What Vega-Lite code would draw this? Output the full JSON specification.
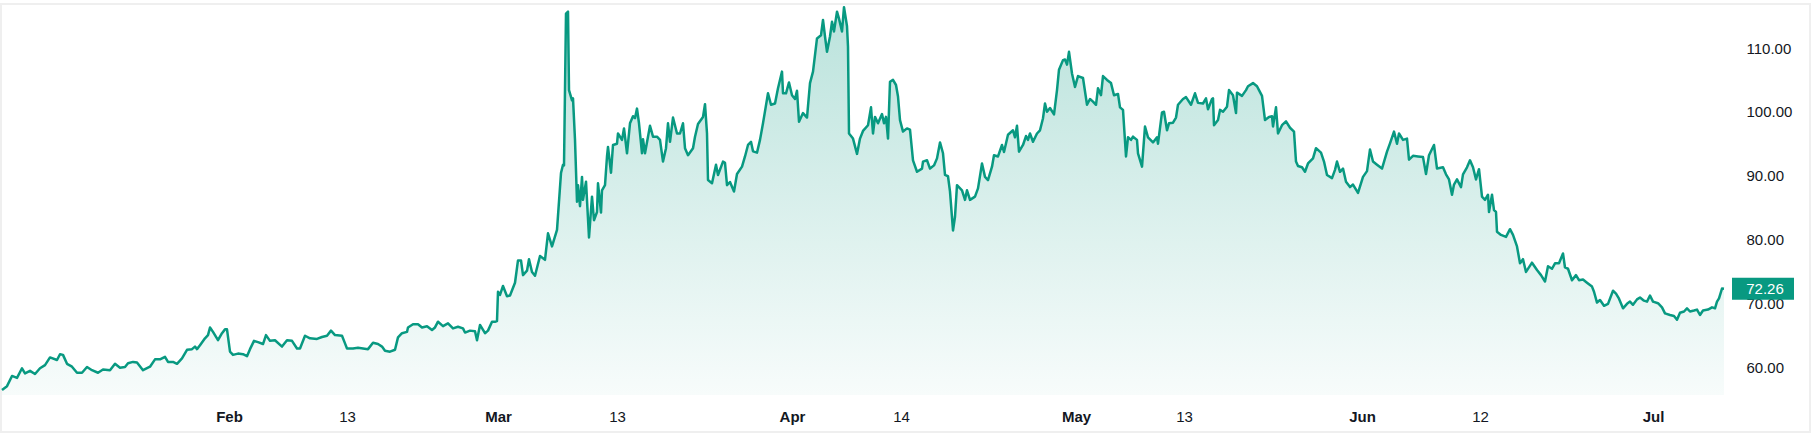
{
  "$schema": "https://vega.github.io/schema/vega-lite/v6.json",
  "width": 1809,
  "height": 428,
  "autosize": {"type": "none"},
  "padding": {"left": 1, "top": 4, "right": 5, "bottom": 10},
  "background": "#ffffff",
  "config": {"view": {"stroke": "#efefef", "strokeWidth": 2}},
  "data": {"values": [
    {"bar":0,"price":56.4},{"bar":5,"price":57.0},{"bar":10,"price":58.6},{"bar":15,"price":58.3},{"bar":20,"price":59.8},{"bar":23,"price":59.0},{"bar":28,"price":59.4},{"bar":33,"price":58.9},{"bar":38,"price":59.8},{"bar":43,"price":60.3},{"bar":48,"price":61.5},{"bar":55,"price":61.1},{"bar":58,"price":62.0},{"bar":61,"price":61.9},{"bar":65,"price":60.5},{"bar":70,"price":60.05},{"bar":75,"price":59.1},{"bar":80,"price":59.1},{"bar":85,"price":60.0},{"bar":90,"price":59.5},{"bar":96,"price":59.1},{"bar":101,"price":59.6},{"bar":108,"price":59.5},{"bar":113,"price":60.5},{"bar":118,"price":59.9},{"bar":123,"price":60.0},{"bar":126,"price":60.6},{"bar":131,"price":60.8},{"bar":135,"price":60.7},{"bar":141,"price":59.5},{"bar":148,"price":60.05},{"bar":153,"price":61.2},{"bar":158,"price":61.2},{"bar":163,"price":61.6},{"bar":166,"price":60.8},{"bar":171,"price":60.8},{"bar":175,"price":60.5},{"bar":180,"price":61.35},{"bar":185,"price":62.7},{"bar":190,"price":62.8},{"bar":193,"price":63.2},{"bar":195,"price":62.8},{"bar":198,"price":63.4},{"bar":203,"price":64.5},{"bar":206,"price":65.0},{"bar":208,"price":66.2},{"bar":211,"price":65.5},{"bar":216,"price":64.2},{"bar":220,"price":65.3},{"bar":223,"price":65.9},{"bar":225,"price":65.9},{"bar":228,"price":62.4},{"bar":231,"price":61.9},{"bar":236,"price":62.1},{"bar":241,"price":62.0},{"bar":245,"price":61.7},{"bar":248,"price":62.8},{"bar":252,"price":64.1},{"bar":256,"price":63.9},{"bar":261,"price":63.6},{"bar":264,"price":65.0},{"bar":268,"price":64.1},{"bar":273,"price":64.2},{"bar":280,"price":63.2},{"bar":285,"price":64.2},{"bar":290,"price":64.1},{"bar":295,"price":62.9},{"bar":298,"price":62.9},{"bar":303,"price":64.9},{"bar":308,"price":64.5},{"bar":315,"price":64.4},{"bar":320,"price":64.7},{"bar":325,"price":64.9},{"bar":329,"price":65.7},{"bar":333,"price":65.0},{"bar":340,"price":64.9},{"bar":343,"price":63.7},{"bar":345,"price":62.9},{"bar":351,"price":62.9},{"bar":356,"price":63.0},{"bar":361,"price":62.9},{"bar":366,"price":62.8},{"bar":371,"price":63.8},{"bar":376,"price":63.6},{"bar":380,"price":63.2},{"bar":383,"price":62.55},{"bar":388,"price":62.4},{"bar":393,"price":62.7},{"bar":396,"price":64.65},{"bar":400,"price":65.3},{"bar":405,"price":65.5},{"bar":406,"price":66.2},{"bar":411,"price":66.7},{"bar":416,"price":66.7},{"bar":420,"price":66.2},{"bar":425,"price":66.4},{"bar":430,"price":65.8},{"bar":433,"price":66.2},{"bar":436,"price":67.1},
    {"bar":441,"price":66.4},{"bar":446,"price":66.85},{"bar":451,"price":66.05},{"bar":456,"price":66.3},{"bar":461,"price":66.05},{"bar":463,"price":65.4},{"bar":468,"price":65.7},{"bar":473,"price":65.6},{"bar":475,"price":64.2},{"bar":478,"price":66.6},{"bar":483,"price":65.3},{"bar":486,"price":65.7},{"bar":490,"price":67.1},{"bar":493,"price":67.1},{"bar":495,"price":67.2},{"bar":496,"price":71.8},{"bar":498,"price":71.3},{"bar":501,"price":72.7},{"bar":505,"price":71.1},{"bar":508,"price":71.2},{"bar":513,"price":73.2},{"bar":516,"price":76.7},{"bar":519,"price":76.7},{"bar":521,"price":74.4},{"bar":525,"price":75.1},{"bar":527,"price":76.9},{"bar":530,"price":74.9},{"bar":533,"price":74.3},{"bar":538,"price":77.4},{"bar":543,"price":76.8},{"bar":546,"price":80.95},{"bar":550,"price":78.9},{"bar":555,"price":81.5},{"bar":559,"price":90.4},{"bar":561,"price":91.7},{"bar":562,"price":91.6},{"bar":564,"price":115.4},{"bar":566,"price":115.7},{"bar":567,"price":103.4},{"bar":570,"price":101.8},{"bar":571,"price":102.1},{"bar":573,"price":95.6},{"bar":575,"price":85.9},{"bar":576,"price":88.5},{"bar":578,"price":85.2},{"bar":580,"price":89.8},{"bar":581,"price":86.2},{"bar":584,"price":89.05},{"bar":587,"price":80.3},{"bar":590,"price":86.7},{"bar":592,"price":83.0},{"bar":595,"price":84.3},{"bar":596,"price":88.8},{"bar":599,"price":84.2},{"bar":600,"price":87.7},{"bar":603,"price":88.5},{"bar":605,"price":93.0},{"bar":606,"price":94.5},{"bar":609,"price":90.45},{"bar":611,"price":94.8},{"bar":615,"price":95.0},{"bar":616,"price":96.6},{"bar":620,"price":95.6},{"bar":622,"price":97.4},{"bar":625,"price":93.5},{"bar":628,"price":98.2},{"bar":631,"price":99.3},{"bar":633,"price":99.0},{"bar":635,"price":100.5},{"bar":637,"price":98.2},{"bar":640,"price":93.5},{"bar":641,"price":95.7},{"bar":643,"price":93.5},{"bar":648,"price":97.8},{"bar":651,"price":96.1},{"bar":655,"price":96.1},{"bar":658,"price":95.6},{"bar":661,"price":92.2},{"bar":664,"price":94.3},{"bar":666,"price":98.2},{"bar":668,"price":95.3},{"bar":671,"price":99.1},{"bar":675,"price":96.6},{"bar":678,"price":96.6},{"bar":681,"price":98.2},{"bar":683,"price":94.3},{"bar":686,"price":93.2},{"bar":691,"price":94.3},{"bar":693,"price":96.1},{"bar":696,"price":98.1},{"bar":701,"price":99.2},{"bar":703,"price":101.2},{"bar":705,"price":96.6},{"bar":706,"price":89.3},{"bar":710,"price":88.8},{"bar":714,"price":91.7},{"bar":716,"price":90.1},{"bar":721,"price":92.2},{"bar":723,"price":92.0},{"bar":725,"price":88.5},{"bar":728,"price":89.0},{"bar":732,"price":87.5},{"bar":735,"price":90.25},{"bar":740,"price":91.4},{"bar":743,"price":93.0},{"bar":746,"price":94.8},{"bar":749,"price":95.3},{"bar":751,"price":93.8},{"bar":755,"price":93.6},{"bar":758,"price":95.6},{"bar":761,"price":98.2},{"bar":766,"price":102.9},{"bar":769,"price":101.1},{"bar":773,"price":101.3},{"bar":776,"price":103.7},{"bar":780,"price":106.3},{"bar":781,"price":102.9},{"bar":784,"price":102.9},{"bar":787,"price":104.6},{"bar":790,"price":102.6},{"bar":793,"price":102.0},{"bar":795,"price":103.3},{"bar":797,"price":98.45},{"bar":801,"price":99.8},{"bar":805,"price":99.1},{"bar":808,"price":104.5},{"bar":811,"price":106.3},{"bar":815,"price":111.5},{"bar":819,"price":112.0},{"bar":821,"price":114.4},{"bar":823,"price":111.8},{"bar":825,"price":109.4},{"bar":828,"price":111.8},{"bar":830,"price":114.1},{"bar":832,"price":112.6},{"bar":835,"price":115.7},{"bar":837,"price":114.6},{"bar":840,"price":112.6},{"bar":842,"price":116.4},{"bar":845,"price":113.4},{"bar":846,"price":110.2},{"bar":847,"price":96.6},{"bar":851,"price":95.8},{"bar":855,"price":93.4},{"bar":858,"price":95.8},{"bar":861,"price":97.0},
    {"bar":866,"price":97.9},{"bar":869,"price":100.7},{"bar":871,"price":96.6},{"bar":873,"price":99.2},{"bar":876,"price":98.2},{"bar":880,"price":99.65},{"bar":882,"price":98.2},{"bar":884,"price":99.2},{"bar":886,"price":95.8},{"bar":888,"price":104.7},{"bar":891,"price":105.0},{"bar":894,"price":104.2},{"bar":896,"price":102.4},{"bar":898,"price":98.7},{"bar":901,"price":96.9},{"bar":905,"price":97.4},{"bar":908,"price":97.2},{"bar":911,"price":92.4},{"bar":915,"price":90.6},{"bar":920,"price":91.1},{"bar":921,"price":92.2},{"bar":925,"price":92.4},{"bar":928,"price":91.1},{"bar":932,"price":91.6},{"bar":935,"price":92.7},{"bar":938,"price":95.2},{"bar":941,"price":93.5},{"bar":943,"price":90.1},{"bar":946,"price":89.9},{"bar":948,"price":87.5},{"bar":951,"price":81.4},{"bar":953,"price":83.55},{"bar":955,"price":88.5},{"bar":960,"price":87.7},{"bar":963,"price":86.2},{"bar":965,"price":87.7},{"bar":968,"price":86.2},{"bar":973,"price":86.7},{"bar":976,"price":88.0},{"bar":980,"price":91.9},{"bar":983,"price":89.8},{"bar":986,"price":89.3},{"bar":990,"price":91.4},{"bar":992,"price":93.2},{"bar":996,"price":93.0},{"bar":1000,"price":94.8},{"bar":1002,"price":93.7},{"bar":1006,"price":96.4},{"bar":1011,"price":97.1},{"bar":1013,"price":96.0},{"bar":1015,"price":97.8},{"bar":1017,"price":93.75},{"bar":1021,"price":94.8},{"bar":1024,"price":96.2},{"bar":1026,"price":95.6},{"bar":1028,"price":96.6},{"bar":1031,"price":95.3},{"bar":1035,"price":96.6},{"bar":1038,"price":97.1},{"bar":1041,"price":99.0},{"bar":1043,"price":101.3},{"bar":1045,"price":100.0},{"bar":1048,"price":100.6},{"bar":1052,"price":99.6},{"bar":1055,"price":103.4},{"bar":1057,"price":106.6},{"bar":1061,"price":108.1},{"bar":1063,"price":108.2},{"bar":1065,"price":107.4},{"bar":1067,"price":109.4},{"bar":1070,"price":106.0},{"bar":1073,"price":103.9},{"bar":1076,"price":105.6},{"bar":1081,"price":105.3},{"bar":1085,"price":101.1},{"bar":1088,"price":102.0},{"bar":1091,"price":101.6},{"bar":1094,"price":101.1},{"bar":1096,"price":103.7},{"bar":1099,"price":102.6},{"bar":1101,"price":105.6},{"bar":1105,"price":105.0},{"bar":1109,"price":104.5},{"bar":1112,"price":102.6},{"bar":1116,"price":102.8},{"bar":1118,"price":100.7},{"bar":1121,"price":100.3},{"bar":1124,"price":93.0},{"bar":1126,"price":96.0},{"bar":1129,"price":95.6},{"bar":1131,"price":96.1},{"bar":1135,"price":95.6},{"bar":1136,"price":93.5},{"bar":1140,"price":91.4},{"bar":1143,"price":97.7},{"bar":1146,"price":96.0},{"bar":1151,"price":95.2},{"bar":1155,"price":96.0},{"bar":1156,"price":95.0},{"bar":1160,"price":99.9},{"bar":1162,"price":100.0},{"bar":1165,"price":97.1},{"bar":1167,"price":98.2},{"bar":1171,"price":98.3},{"bar":1174,"price":99.1},{"bar":1176,"price":101.1},{"bar":1181,"price":102.0},{"bar":1184,"price":102.3},{"bar":1189,"price":101.1},{"bar":1193,"price":102.9},{"bar":1196,"price":101.4},{"bar":1201,"price":101.3},{"bar":1204,"price":102.1},{"bar":1206,"price":100.4},{"bar":1210,"price":102.0},{"bar":1211,"price":102.1},{"bar":1212,"price":97.9},{"bar":1216,"price":98.7},{"bar":1218,"price":100.3},{"bar":1221,"price":100.0},{"bar":1225,"price":100.8},{"bar":1227,"price":103.4},{"bar":1231,"price":102.6},{"bar":1234,"price":99.8},{"bar":1235,"price":103.0},{"bar":1240,"price":102.5},{"bar":1244,"price":103.4},{"bar":1246,"price":104.0},{"bar":1251,"price":104.5},{"bar":1255,"price":104.0},{"bar":1257,"price":103.4},{"bar":1260,"price":102.5},{"bar":1263,"price":98.7},{"bar":1267,"price":99.2},{"bar":1270,"price":99.3},{"bar":1271,"price":97.7},{"bar":1274,"price":100.7},{"bar":1276,"price":96.6},{"bar":1280,"price":97.9},{"bar":1284,"price":98.5},{"bar":1288,"price":97.5},{"bar":1292,"price":96.9},{"bar":1294,"price":92.2},{"bar":1296,"price":91.5},{"bar":1300,"price":91.3},{"bar":1303,"price":90.6},{"bar":1306,"price":91.9},{"bar":1311,"price":92.7},{"bar":1314,"price":94.3},{"bar":1319,"price":93.6},{"bar":1322,"price":92.2},{"bar":1325,"price":90.1},{"bar":1330,"price":89.6},{"bar":1333,"price":90.9},{"bar":1335,"price":92.2},{"bar":1338,"price":90.6},{"bar":1341,"price":91.1},{"bar":1344,"price":89.05},{"bar":1348,"price":88.2},{"bar":1351,"price":88.6},{"bar":1356,"price":87.3},{"bar":1361,"price":89.8},{"bar":1365,"price":90.7},{"bar":1368,"price":94.1},{"bar":1371,"price":92.2},{"bar":1375,"price":91.7},{"bar":1380,"price":91.1},{"bar":1385,"price":93.75},{"bar":1388,"price":95.05},{"bar":1392,"price":96.9},{"bar":1395,"price":95.0},{"bar":1397,"price":96.6},{"bar":1401,"price":95.6},{"bar":1405,"price":95.8},{"bar":1407,"price":92.5},{"bar":1411,"price":93.1},{"bar":1416,"price":93.0},{"bar":1421,"price":92.9},{"bar":1424,"price":90.25},{"bar":1427,"price":93.2},{"bar":1432,"price":94.8},{"bar":1435,"price":91.1},{"bar":1441,"price":91.3},{"bar":1444,"price":90.2},{"bar":1447,"price":89.4},{"bar":1450,"price":87.0},{"bar":1452,"price":88.6},{"bar":1455,"price":89.4},{"bar":1459,"price":88.2},{"bar":1461,"price":90.2},{"bar":1465,"price":91.3},{"bar":1468,"price":92.4},{"bar":1471,"price":91.3},{"bar":1474,"price":89.4},{"bar":1477,"price":91.0},{"bar":1480,"price":86.7},{"bar":1483,"price":86.2},{"bar":1486,"price":87.0},{"bar":1487,"price":84.3},{"bar":1490,"price":87.0},{"bar":1492,"price":84.6},{"bar":1494,"price":84.3},{"bar":1495,"price":81.2},{"bar":1499,"price":80.7},{"bar":1504,"price":80.4},{"bar":1508,"price":81.6},{"bar":1511,"price":80.7},{"bar":1515,"price":78.9},{"bar":1518,"price":76.25},{"bar":1521,"price":76.9},{"bar":1524,"price":74.9},{"bar":1530,"price":76.35},{"bar":1535,"price":75.2},{"bar":1539,"price":74.4},{"bar":1543,"price":73.4},{"bar":1546,"price":75.8},{"bar":1550,"price":75.4},{"bar":1553,"price":76.25},{"bar":1557,"price":76.25},{"bar":1561,"price":77.8},{"bar":1563,"price":75.6},{"bar":1566,"price":75.4},{"bar":1570,"price":73.6},{"bar":1574,"price":74.4},{"bar":1577,"price":73.6},{"bar":1581,"price":73.7},{"bar":1585,"price":73.2},{"bar":1590,"price":72.6},{"bar":1592,"price":71.8},{"bar":1595,"price":70.1},{"bar":1598,"price":70.5},{"bar":1602,"price":69.6},{"bar":1606,"price":69.9},{"bar":1611,"price":71.95},{"bar":1614,"price":71.5},{"bar":1617,"price":70.7},{"bar":1621,"price":69.2},{"bar":1625,"price":69.9},{"bar":1628,"price":70.25},{"bar":1631,"price":69.75},{"bar":1635,"price":70.6},{"bar":1638,"price":70.9},{"bar":1642,"price":70.4},{"bar":1645,"price":70.25},{"bar":1648,"price":71.2},{"bar":1651,"price":70.25},{"bar":1656,"price":70.0},{"bar":1660,"price":69.35},{"bar":1663,"price":68.4},{"bar":1668,"price":68.15},{"bar":1672,"price":68.0},{"bar":1675,"price":67.4},{"bar":1678,"price":68.5},{"bar":1682,"price":68.7},{"bar":1685,"price":69.2},{"bar":1688,"price":68.7},{"bar":1692,"price":68.85},{"bar":1695,"price":69.0},{"bar":1698,"price":68.15},{"bar":1701,"price":68.85},{"bar":1706,"price":69.0},{"bar":1710,"price":69.35},{"bar":1713,"price":69.2},{"bar":1715,"price":70.25},{"bar":1717,"price":70.75},{"bar":1720,"price":72.3},{"bar":1722,"price":72.26}
  ]},
  "encoding": {
    "x": {
      "field": "bar", "type": "quantitative",
      "scale": {"domain": [-1, 1808], "nice": false, "zero": false},
      "axis": {
        "title": null, "grid": false, "domain": false, "ticks": false, "tickSize": 0,
        "values": [227, 345, 496, 615, 790, 899, 1074, 1182, 1360, 1478, 1651],
        "labelExpr": "datum.value == 227 ? 'Feb' : datum.value == 345 ? '13' : datum.value == 496 ? 'Mar' : datum.value == 615 ? '13' : datum.value == 790 ? 'Apr' : datum.value == 899 ? '14' : datum.value == 1074 ? 'May' : datum.value == 1182 ? '13' : datum.value == 1360 ? 'Jun' : datum.value == 1478 ? '12' : 'Jul'",
        "labelFontWeight": {"condition": {"test": "indexof([227, 496, 790, 1074, 1360, 1651], datum.value) >= 0", "value": "bold"}, "value": "normal"},
        "offset": -16, "labelPadding": 0, "labelBaseline": "middle",
        "labelFont": "Liberation Sans", "labelFontSize": 15, "labelColor": "#131722",
        "labelOverlap": false, "labelFlush": false, "labelBound": false
      }
    },
    "y": {
      "field": "price", "type": "quantitative",
      "scale": {"domain": [49.812, 116.897], "nice": false, "zero": false},
      "axis": {
        "orient": "right", "title": null, "grid": false, "domain": false, "ticks": false, "tickSize": 0,
        "values": [60, 70, 80, 90, 100, 110], "format": ".2f",
        "offset": -64, "labelPadding": 0, "labelAlign": "left", "labelBaseline": "middle",
        "labelFont": "Liberation Sans", "labelFontSize": 15, "labelColor": "#131722",
        "labelOverlap": false, "labelFlush": false, "labelBound": false
      }
    }
  },
  "layer": [
    {
      "mark": {
        "type": "area",
        "fill": {"gradient": "linear", "x1": 0, "y1": 0, "x2": 0, "y2": 1,
          "stops": [{"offset": 0, "color": "rgba(8,153,129,0.28)"}, {"offset": 1, "color": "rgba(8,153,129,0.03)"}]}
      },
      "encoding": {"y2": {"datum": 55.6}}
    },
    {
      "mark": {"type": "line", "color": "#089981", "strokeWidth": 2.5, "strokeJoin": "round"}
    },
    {
      "transform": [
        {"joinaggregate": [{"op": "max", "field": "bar", "as": "last"}]},
        {"filter": "datum.bar == datum.last"}
      ],
      "mark": {"type": "point", "shape": "M-1,-0.355H1V0.355H-1Z", "size": 3844, "filled": true, "color": "#089981", "opacity": 1, "strokeWidth": 0, "xOffset": 39}
    },
    {
      "transform": [
        {"joinaggregate": [{"op": "max", "field": "bar", "as": "last"}]},
        {"filter": "datum.bar == datum.last"}
      ],
      "mark": {"type": "text", "color": "#ffffff", "dx": 41, "align": "center", "baseline": "middle", "font": "Liberation Sans", "fontSize": 15},
      "encoding": {"text": {"field": "price", "format": ".2f"}}
    }
  ]
}
